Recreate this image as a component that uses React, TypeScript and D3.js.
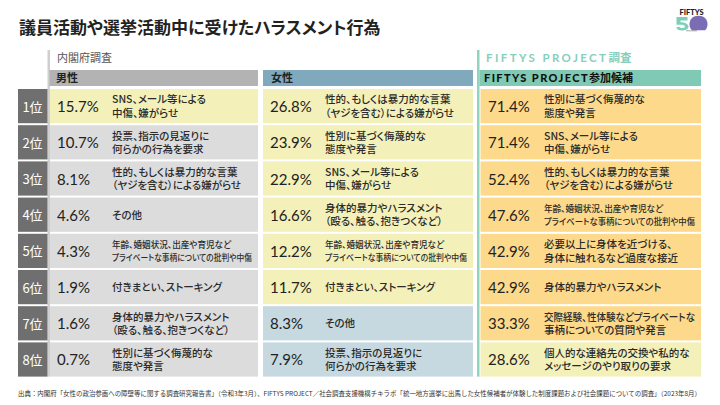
import React, { useEffect, useRef } from 'react';
import * as d3 from 'd3';

const title = '議員活動や選挙活動中に受けたハラスメント行為';
const ranks = ['1位', '2位', '3位', '4位', '5位', '6位', '7位', '8位'];

const maleValues = [15.7, 10.7, 8.1, 4.6, 4.3, 1.9, 1.6, 0.7];
const maleItems = [
  'SNS、メール等による\n中傷、嫌がらせ',
  '投票、指示の見返りに\n何らかの行為を要求',
  '性的、もしくは暴力的な言葉\n（ヤジを含む）による嫌がらせ',
  'その他',
  '年齢、婚姻状況、出産や育児など\nプライベートな事柄についての批判や中傷',
  '付きまとい、ストーキング',
  '身体的暴力やハラスメント\n（殴る、触る、抱きつくなど）',
  '性別に基づく侮蔑的な\n態度や発言',
];
const maleTone = ['yellow', 'gray', 'gray', 'gray', 'gray', 'gray', 'gray', 'gray'];

const femaleValues = [26.8, 23.9, 22.9, 16.6, 12.2, 11.7, 8.3, 7.9];
const femaleItems = [
  '性的、もしくは暴力的な言葉\n（ヤジを含む）による嫌がらせ',
  '性別に基づく侮蔑的な\n態度や発言',
  'SNS、メール等による\n中傷、嫌がらせ',
  '身体的暴力やハラスメント\n（殴る、触る、抱きつくなど）',
  '年齢、婚姻状況、出産や育児など\nプライベートな事柄についての批判や中傷',
  '付きまとい、ストーキング',
  'その他',
  '投票、指示の見返りに\n何らかの行為を要求',
];
const femaleTone = ['yellow', 'yellow', 'yellow', 'yellow', 'yellow', 'yellow', 'blue', 'blue'];

const fiftysValues = [71.4, 71.4, 52.4, 47.6, 42.9, 42.9, 33.3, 28.6];
const fiftysItems = [
  '性別に基づく侮蔑的な\n態度や発言',
  'SNS、メール等による\n中傷、嫌がらせ',
  '性的、もしくは暴力的な言葉\n（ヤジを含む）による嫌がらせ',
  '年齢、婚姻状況、出産や育児など\nプライベートな事柄についての批判や中傷',
  '必要以上に身体を近づける、\n身体に触れるなど過度な接近',
  '身体的暴力やハラスメント',
  '交際経験、性体験などプライベートな\n事柄についての質問や発言',
  '個人的な連絡先の交換や私的な\nメッセージのやり取りの要求',
];
const fiftysTone = ['orange', 'orange', 'orange', 'orange', 'orange', 'orange', 'orange', 'yellow'];

const surveyLabels = ['内閣府調査', 'FIFTYS PROJECT調査'];
const columnHeaders = ['男性', '女性', 'FIFTYS PROJECT参加候補'];
const source =
  '出典：内閣府「女性の政治参画への障壁等に関する調査研究報告書」（令和3年3月）、FIFTYS PROJECT／社会調査支援機構チキラボ「統一地方選挙に出馬した女性候補者が体験した制度課題および社会課題についての調査」（2023年8月）';

const toneColor = d3
  .scaleOrdinal<string, string>()
  .domain(['yellow', 'gray', 'blue', 'orange'])
  .range(['#f3f0b9', '#dcdcdc', '#c6d9e1', '#fdd98b']);

const JP = '"Noto Sans CJK JP", "Noto Sans", sans-serif';
const LAT = 'Lato, "Noto Sans", sans-serif';

const columns = [
  { key: 'm', values: maleValues, items: maleItems, tone: maleTone, x0: 50, x1: 258, pct: 57, desc: 112, headX: 49.5, headText: 56, headFill: '#b3b3b3' },
  { key: 'f', values: femaleValues, items: femaleItems, tone: femaleTone, x0: 263, x1: 473, pct: 270, desc: 325, headX: 263, headText: 271, headFill: '#80a9bd' },
  { key: 'p', values: fiftysValues, items: fiftysItems, tone: fiftysTone, x0: 480.5, x1: 701, pct: 488, desc: 544, headX: 479.5, headText: 484, headFill: '#80c9b4' },
];

export default function App() {
  const ref = useRef<SVGSVGElement>(null);
  const y = d3.scaleBand<string>().domain(ranks).range([89, 376.6]).paddingInner(0.055).paddingOuter(0);
  const bw = y.bandwidth();
  const fmt = d3.format('.1f');

  useEffect(() => {
    if (!ref.current) return;
    d3.select(ref.current)
      .selectAll<SVGTextElement, unknown>('text.fit')
      .each(function () {
        const max = +(this.getAttribute('data-max') || 0);
        const len = this.getComputedTextLength();
        if (max && len > max) {
          this.setAttribute('textLength', String(max));
          this.setAttribute('lengthAdjust', 'spacingAndGlyphs');
        }
      });
  }, []);

  return (
    <svg ref={ref} width={720} height={405} style={{ position: 'absolute', left: 0, top: 0, background: '#fff' }}>
      <rect width={720} height={405} fill="#fff" />
      {/* title */}
      <text x={19} y={33.5} fontFamily={JP} fontSize={17} fontWeight={700} fill="#222" style={{ fontFeatureSettings: '"palt"' }}>
        {title}
      </text>
      {/* logo */}
      <g>
        <text x={691.5} y={14.5} textAnchor="middle" fontFamily={LAT} fontSize={7.5} fontWeight={900} fill="#222">FIFTYS</text>
        <path d="M676.5,17 h11 v3.5 h-7 v1.8 c4.5,0 8,2 8,4.3 c0,2.8 -3.2,4 -6.5,4 c-3,0 -5.3,-1.3 -5.8,-3.3 l3.2,-0.6 c0.4,0.9 1.5,1.4 2.6,1.4 c1.5,0 2.9,-0.6 2.9,-1.6 c0,-1.1 -1.5,-1.7 -3.6,-1.7 h-4.8 z" fill="#7fcfb8" />
        <path d="M689.5,24 c0,-5 3.7,-8.3 9,-8.3 c5.3,0 9,3.3 9,8.3 c0,3 -1,5 -2.5,6.2 h-13 c-1.5,-1.2 -2.5,-3.2 -2.5,-6.2 z" fill="#7b6cb6" />
        <line x1={686} x2={697} y1={30.8} y2={30.8} stroke="#555" strokeWidth={0.5} />
      </g>
      {/* survey labels & vertical lines */}
      <rect x={47.5} y={50} width={2.5} height={326.6} fill="#cfcfcf" />
      <rect x={477} y={50} width={2.5} height={326.6} fill="#8fd3c1" />
      <text x={57} y={62} fontFamily={JP} fontSize={11} fill="#555">{surveyLabels[0]}</text>
      <text x={486} y={61.5} fontFamily={LAT} fontSize={11.5} fontWeight={700} fill="#86cfbb" letterSpacing={2.4}>
        FIFTYS PROJECT<tspan fontFamily={JP} letterSpacing={0}>調査</tspan>
      </text>
      {/* column headers */}
      {columns.map((c, i) => (
        <g key={c.key + 'h'}>
          <rect x={c.headX} y={70} width={c.x1 - c.headX} height={16} fill={c.headFill} />
          {i < 2 ? (
            <text x={c.headText} y={82} fontFamily={JP} fontSize={11} fontWeight={700} fill="#222">{columnHeaders[i]}</text>
          ) : (
            <text x={c.headText} y={82} fontFamily={LAT} fontSize={11} fontWeight={900} fill="#111" letterSpacing={1.4}>
              FIFTYS PROJECT<tspan fontFamily={JP} fontWeight={700} letterSpacing={0}>参加候補</tspan>
            </text>
          )}
        </g>
      ))}
      {/* rank badges */}
      {ranks.map((r) => (
        <g key={r}>
          <rect x={18} y={y(r)!} width={29.5} height={bw} fill="#6f6f6f" />
          <text x={32.5} y={y(r)! + bw / 2 + 5.5} textAnchor="middle" fontFamily={JP} fontSize={13} fill="#fff">{r}</text>
        </g>
      ))}
      {/* cells */}
      {columns.map((c) =>
        ranks.map((r, j) => {
          const top = y(r)!;
          const cy = top + bw / 2;
          const lines = c.items[j].split('\n');
          const small = d3.max(lines, (l) => l.length)! > 18;
          const fs = small ? 8.6 : 10.5;
          const lh = small ? 13 : 13.5;
          const maxW = c.x1 - c.desc - 6;
          return (
            <g key={c.key + r}>
              <rect x={c.x0} y={top} width={c.x1 - c.x0} height={bw} fill={toneColor(c.tone[j])} />
              <text x={c.pct} y={cy + 6} fontFamily={LAT} fontSize={15} fill="#222">
                {fmt(c.values[j])}%
              </text>
              {lines.map((l, k) => (
                <text
                  key={k}
                  className="fit"
                  data-max={maxW}
                  x={c.desc}
                  y={cy + 4 + (k - (lines.length - 1) / 2) * lh}
                  fontFamily={JP}
                  fontSize={fs}
                  fontWeight={500}
                  fill="#2a2a2a"
                  style={{ fontFeatureSettings: '"palt"' }}
                >
                  {l}
                </text>
              ))}
            </g>
          );
        })
      )}
      {/* source */}
      <text x={18} y={396} fontFamily={JP} fontSize={6.6} fill="#333" textLength={683} lengthAdjust="spacingAndGlyphs">
        {source}
      </text>
    </svg>
  );
}
